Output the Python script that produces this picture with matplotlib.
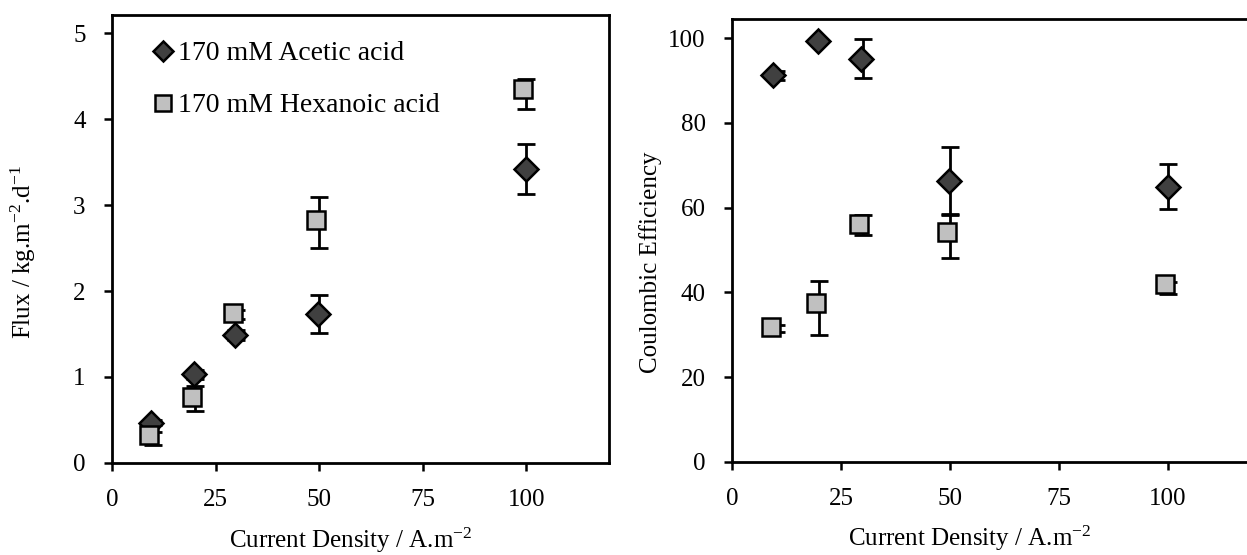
import matplotlib
matplotlib.use('Agg')
import matplotlib.pyplot as plt

plt.rcParams['font.family'] = ['Liberation Serif', 'DejaVu Serif']
plt.rcParams['mathtext.fontset'] = 'custom'
plt.rcParams['mathtext.rm'] = 'Liberation Serif'
plt.rcParams['mathtext.it'] = 'Liberation Serif:italic'

# current density of each run (error bars sit here)
current = [10, 20, 30, 50, 100]
# marker positions as they appear in the figure
x_acetic = [9.3, 19.8, 29.7, 49.8, 100]
x_hexanoic = [8.9, 19.3, 29.1, 49.3, 99.3]

# flux, kg/m2/d
flux_acetic = [0.47, 1.03, 1.49, 1.73, 3.42]
flux_acetic_err = [0.03, 0.05, 0.06, 0.22, 0.29]
flux_hex = [0.33, 0.77, 1.75, 2.83, 4.35]
flux_hex_lo = [0.12, 0.17, 0.08, 0.33, 0.23]
flux_hex_hi = [0.03, 0.12, 0.03, 0.26, 0.12]

# coulombic efficiency, %
ce_acetic = [91.2, 99.4, 95.2, 66.3, 64.9]
ce_acetic_err = [1.0, 0.5, 4.7, 8.0, 5.3]
ce_hex = [31.9, 37.4, 56.1, 54.2, 42.0]
ce_hex_lo = [1.2, 7.4, 2.6, 6.0, 2.4]
ce_hex_hi = [0.5, 5.3, 2.2, 4.4, 0.5]

xticks = [0, 25, 50, 75, 100]

fig = plt.figure(figsize=(12.47, 5.55), dpi=100)
ax1 = fig.add_axes([0.0898, 0.1658, 0.3986, 0.8072])
ax2 = fig.add_axes([0.587, 0.1676, 0.4194, 0.798])

def draw(ax, ya, ea, yh, eh):
    ax.errorbar(current, ya, yerr=ea, fmt='none', ecolor='black',
                elinewidth=2, capsize=6.5, capthick=2, zorder=1)
    ax.errorbar(current, yh, yerr=eh, fmt='none', ecolor='black',
                elinewidth=2, capsize=6.5, capthick=2, zorder=1)
    ax.plot(x_acetic, ya, 'D', ms=12.3, mfc='#404040', mec='black', mew=1.8,
            zorder=3, label='170 mM Acetic acid')
    ax.plot(x_hexanoic, yh, 's', ms=13.5, mfc='#c0c0c0', mec='black', mew=1.8,
            zorder=3, label='170 mM Hexanoic acid')
    ax.set_xlim(0, 120)
    ax.set_xticks(xticks)
    ax.tick_params(direction='out', length=6, width=1.8, labelsize=18, pad=13)
    for s in ax.spines.values():
        s.set_linewidth(2)
    ax.set_xlabel('Current Density / A.m$^{-2}$', fontsize=18)

draw(ax1, flux_acetic, flux_acetic_err, flux_hex, [flux_hex_lo, flux_hex_hi])
ax1.set_ylim(0, 5.21)
ax1.set_yticks([0, 1, 2, 3, 4, 5])
ax1.set_ylabel('Flux / kg.m$^{-2}$.d$^{-1}$', fontsize=18)
ax1.yaxis.set_label_coords(-0.148, 0.47)
ax1.xaxis.set_label_coords(0.48, -0.14)
ax1.legend(loc='upper left', bbox_to_anchor=(0.08, 0.942), frameon=False,
           fontsize=20, handlelength=0.8, handletextpad=0.15, labelspacing=0.95,
           borderaxespad=0, borderpad=0, markerscale=0.82)

draw(ax2, ce_acetic, ce_acetic_err, ce_hex, [ce_hex_lo, ce_hex_hi])
ax2.set_ylim(0, 104.5)
ax2.set_yticks([0, 20, 40, 60, 80, 100])
ax2.set_ylabel('Coulombic Efficiency', fontsize=18)
ax2.yaxis.set_label_coords(-0.134, 0.45)
ax2.xaxis.set_label_coords(0.455, -0.14)

fig.savefig('out.png', dpi=100)
